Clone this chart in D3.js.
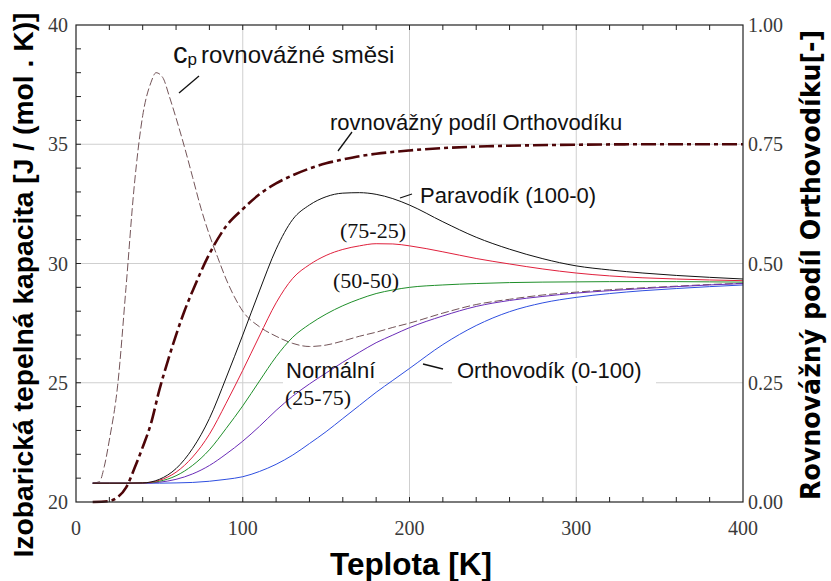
<!DOCTYPE html>
<html>
<head>
<meta charset="utf-8">
<script src="https://cdn.jsdelivr.net/npm/d3@7"></script>
<style>
  body { margin: 0; background: #fff; }
  svg { display: block; }
</style>
</head>
<body>
<svg id="chart" width="831" height="581"></svg>
<script>
// Temperature grid [K] shared by the five ortho/para mixtures
const tempGrid = [10, 20, 30, 40, 50, 60, 70, 80, 90, 100, 110, 120, 130, 140, 150, 160, 170, 180, 190, 200, 220, 240, 260, 280, 300, 320, 340, 360, 380, 400];

// Isobaric heat capacity [J/(mol.K)] of para/ortho mixtures
const cpPara100 = [20.79, 20.79, 20.79, 20.80, 20.95, 21.4, 22.25, 23.5, 25.2, 27.0, 28.85, 30.6, 31.85, 32.45, 32.8, 32.95, 32.97, 32.9, 32.72, 32.45, 31.75, 31.1, 30.6, 30.2, 29.9, 29.73, 29.6, 29.5, 29.42, 29.35];
const cpMix7525 = [20.79, 20.79, 20.79, 20.80, 20.91, 21.25, 21.89, 22.84, 24.14, 25.52, 26.96, 28.35, 29.38, 29.95, 30.34, 30.59, 30.74, 30.83, 30.82, 30.74, 30.49, 30.21, 29.98, 29.77, 29.6, 29.48, 29.4, 29.35, 29.31, 29.28];
const cpMix5050 = [20.79, 20.79, 20.79, 20.80, 20.87, 21.1, 21.54, 22.19, 23.08, 24.03, 25.07, 26.09, 26.91, 27.45, 27.88, 28.23, 28.51, 28.74, 28.89, 29.0, 29.1, 29.16, 29.2, 29.22, 29.23, 29.24, 29.24, 29.24, 29.23, 29.22];
const cpMix2575 = [20.79, 20.79, 20.79, 20.79, 20.83, 20.95, 21.18, 21.53, 22.01, 22.55, 23.17, 23.84, 24.44, 24.95, 25.41, 25.86, 26.28, 26.68, 27.0, 27.31, 27.8, 28.2, 28.45, 28.62, 28.76, 28.86, 28.95, 29.03, 29.1, 29.16];
const cpOrtho100 = [20.79, 20.79, 20.79, 20.79, 20.79, 20.8, 20.82, 20.87, 20.95, 21.06, 21.28, 21.58, 21.97, 22.45, 22.95, 23.5, 24.05, 24.6, 25.1, 25.6, 26.6, 27.4, 27.98, 28.35, 28.58, 28.74, 28.86, 28.95, 29.03, 29.1];

// Heat capacity of the equilibrium mixture
const eqTemps = [10, 14, 17, 20, 25, 30, 35, 40, 45, 48, 52, 56, 60, 65, 70, 75, 80, 85, 90, 95, 100, 110, 120, 130, 140, 150, 160, 170, 180, 190, 200, 220, 240, 260, 280, 300, 320, 340, 360, 380, 400];
const cpEquilibrium = [20.79, 20.85, 21.5, 22.6, 24.9, 29.0, 33.3, 36.2, 37.6, 38.0, 37.8, 37.0, 36.1, 34.9, 33.6, 32.3, 31.2, 30.25, 29.35, 28.6, 28.0, 27.35, 26.95, 26.65, 26.52, 26.58, 26.75, 26.95, 27.12, 27.32, 27.5, 27.92, 28.28, 28.5, 28.68, 28.8, 28.9, 28.98, 29.05, 29.12, 29.17];

// Equilibrium ortho-hydrogen fraction [-] (right axis)
const fracTemps = [10, 20, 25, 30, 35, 40, 45, 50, 55, 60, 65, 70, 80, 90, 100, 110, 120, 130, 140, 150, 160, 170, 180, 200, 220, 250, 300, 350, 400];
const orthoFraction = [0.0, 0.002, 0.01, 0.03, 0.07, 0.115, 0.165, 0.235, 0.295, 0.35, 0.4, 0.443, 0.52, 0.578, 0.614, 0.645, 0.668, 0.685, 0.699, 0.71, 0.718, 0.725, 0.73, 0.737, 0.742, 0.746, 0.749, 0.75, 0.75];

// Axis ticks
const xTicks = [0, 100, 200, 300, 400];
const yLeftTicks = [20, 25, 30, 35, 40];
const yRightTicks = [0, 0.25, 0.5, 0.75, 1.0];

const svg = d3.select("#chart");
const plotLeft = 76, plotRight = 743, plotTop = 25, plotBottom = 502;

const x = d3.scaleLinear().domain([0, 400]).range([plotLeft, plotRight]);
const yL = d3.scaleLinear().domain([20, 40]).range([plotBottom, plotTop]);
const yR = d3.scaleLinear().domain([0, 1]).range([plotBottom, plotTop]);

// Grid lines
const grid = svg.append("g").attr("stroke", "#cfcfcf").attr("stroke-width", 1);
xTicks.slice(1, -1).forEach(t => {
  grid.append("line").attr("x1", x(t)).attr("x2", x(t)).attr("y1", plotTop).attr("y2", plotBottom);
});
yLeftTicks.slice(1, -1).forEach(v => {
  grid.append("line").attr("x1", plotLeft).attr("x2", plotRight).attr("y1", yL(v)).attr("y2", yL(v));
});

// White boxes under the curve labels
const boxes = svg.append("g").attr("fill", "#fff");
boxes.append("rect").attr("x", 283).attr("y", 358).attr("width", 96).attr("height", 52);
boxes.append("rect").attr("x", 452).attr("y", 358).attr("width", 204).attr("height", 28);

// Curves
const lineL = (ts, vs) => d3.line().x((d, i) => x(ts[i])).y(d => yL(d)).curve(d3.curveMonotoneX)(vs);
const lineR = (ts, vs) => d3.line().x((d, i) => x(ts[i])).y(d => yR(d)).curve(d3.curveMonotoneX)(vs);

const curves = svg.append("g").attr("fill", "none");
curves.append("path").attr("d", lineL(eqTemps, cpEquilibrium))
  .attr("stroke", "#735458").attr("stroke-width", 1).attr("stroke-dasharray", "8,3");
curves.append("path").attr("d", lineL(tempGrid, cpOrtho100)).attr("stroke", "#2f4fe0").attr("stroke-width", 1);
curves.append("path").attr("d", lineL(tempGrid, cpMix2575)).attr("stroke", "#6a2cb8").attr("stroke-width", 1);
curves.append("path").attr("d", lineL(tempGrid, cpMix5050)).attr("stroke", "#1f8f2a").attr("stroke-width", 1);
curves.append("path").attr("d", lineL(tempGrid, cpMix7525)).attr("stroke", "#e0203c").attr("stroke-width", 1);
curves.append("path").attr("d", lineL(tempGrid, cpPara100)).attr("stroke", "#111").attr("stroke-width", 1);
curves.append("path").attr("d", lineR(fracTemps, orthoFraction))
  .attr("stroke", "#4e0508").attr("stroke-width", 2.6).attr("stroke-dasharray", "15,4,4,4");

// Frame and inward ticks
const frame = svg.append("g").attr("stroke", "#222").attr("fill", "none");
frame.append("rect").attr("x", plotLeft).attr("y", plotTop)
  .attr("width", plotRight - plotLeft).attr("height", plotBottom - plotTop).attr("stroke-width", 1.2);
d3.range(20, 400, 20).forEach(t => {
  frame.append("line").attr("x1", x(t)).attr("x2", x(t)).attr("y1", plotBottom).attr("y2", plotBottom - 5);
  frame.append("line").attr("x1", x(t)).attr("x2", x(t)).attr("y1", plotTop).attr("y2", plotTop + 5);
});
d3.range(21, 40, 1).forEach(v => {
  frame.append("line").attr("x1", plotLeft).attr("x2", plotLeft + 5).attr("y1", yL(v)).attr("y2", yL(v));
});

// Tick labels
const tickFont = "'Liberation Serif', 'Times New Roman', serif";
const tl = svg.append("g").attr("font-family", tickFont).attr("font-size", 20).attr("fill", "#3a3a3a");
xTicks.forEach(t => {
  tl.append("text").attr("x", x(t)).attr("y", 535).attr("text-anchor", "middle").text(t);
});
yLeftTicks.forEach(v => {
  tl.append("text").attr("x", 68).attr("y", yL(v) + 7).attr("text-anchor", "end").text(v);
});
yRightTicks.forEach(v => {
  tl.append("text").attr("x", 748).attr("y", yR(v) + 7).attr("text-anchor", "start").text(d3.format(".2f")(v));
});

// Axis titles
const titleFont = "'Liberation Sans', Arial, sans-serif";
svg.append("text").attr("x", 411).attr("y", 575).attr("text-anchor", "middle")
  .attr("font-family", titleFont).attr("font-weight", "bold").attr("font-size", 31)
  .attr("textLength", 162).attr("lengthAdjust", "spacingAndGlyphs")
  .text("Teplota [K]");
svg.append("text").attr("transform", "translate(33,285) rotate(-90)").attr("text-anchor", "middle")
  .attr("font-family", titleFont).attr("font-weight", "bold").attr("font-size", 28.5)
  .attr("textLength", 545).attr("lengthAdjust", "spacingAndGlyphs")
  .text("Izobarická tepelná kapacita [J / (mol . K)]");
svg.append("text").attr("transform", "translate(820,265) rotate(-90)").attr("text-anchor", "middle")
  .attr("font-family", "'DejaVu Sans', sans-serif").attr("font-weight", "bold").attr("font-size", 26)
  .attr("textLength", 470).attr("lengthAdjust", "spacingAndGlyphs")
  .text("Rovnovážný podíl Orthovodíku[-]");

// Curve annotations
const ann = svg.append("g").attr("font-family", titleFont).attr("fill", "#111");
const cpLabel = ann.append("text").attr("x", 173).attr("y", 63);
cpLabel.append("tspan").attr("font-size", 29).text("c");
cpLabel.append("tspan").attr("font-size", 17).attr("dy", 2).text("p");
cpLabel.append("tspan").attr("font-size", 24).attr("dy", -2).attr("dx", 4).text("rovnovážné směsi");
ann.append("text").attr("x", 330).attr("y", 130).attr("font-size", 22).text("rovnovážný podíl Orthovodíku");
ann.append("text").attr("x", 420).attr("y", 203).attr("font-size", 22).text("Paravodík (100-0)");
ann.append("text").attr("x", 286).attr("y", 378).attr("font-size", 22).text("Normální");
ann.append("text").attr("x", 457).attr("y", 378).attr("font-size", 22).text("Orthovodík (0-100)");

const serifAnn = svg.append("g").attr("font-family", tickFont).attr("font-size", 22).attr("fill", "#111");
serifAnn.append("text").attr("x", 340).attr("y", 238).text("(75-25)");
serifAnn.append("text").attr("x", 333).attr("y", 288).text("(50-50)");
serifAnn.append("text").attr("x", 285).attr("y", 405).text("(25-75)");

// Leader lines from labels to curves
const leaders = svg.append("g").attr("stroke", "#111").attr("stroke-width", 1.3);
leaders.append("line").attr("x1", 199).attr("y1", 76).attr("x2", 179).attr("y2", 93);
leaders.append("line").attr("x1", 352).attr("y1", 132).attr("x2", 338).attr("y2", 151);
leaders.append("line").attr("x1", 400).attr("y1", 198).attr("x2", 412).attr("y2", 194);
leaders.append("line").attr("x1", 423).attr("y1", 364).attr("x2", 443).attr("y2", 369);
</script>
</body>
</html>
